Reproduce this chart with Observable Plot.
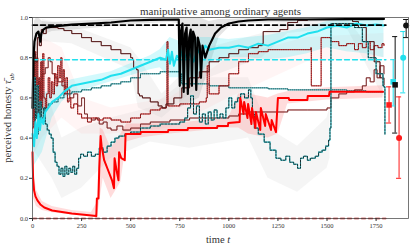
<!DOCTYPE html>
<html><head><meta charset="utf-8">
<script src="https://cdn.jsdelivr.net/npm/d3@7"></script>
<script src="https://cdn.jsdelivr.net/npm/@observablehq/plot@0.6"></script>
<style>body{margin:0;background:#fff;}</style>
</head><body><div id="chart"></div>
<script>
// ---------- data (time t, perceived honesty) ----------
const titleText = "manipulative among ordinary agents";
const xTicks = [0, 250, 500, 750, 1000, 1250, 1500, 1750];
const yTicks = [0, 0.2, 0.4, 0.6, 0.8, 1.0];

// reference levels
const refBlack = [[0,0.962],[1800,0.962]];
const refCyan  = [[0,0.79],[1800,0.79]];
const refRed   = [[0,0.0],[1800,0.0]];

// thick mean curves
const blackMean = [[0,0.55],[5,0.8],[10,0.88],[20,0.92],[30,0.93],[40,0.88],[45,0.92],[55,0.94],[70,0.95],[100,0.955],[150,0.96],[200,0.965],[300,0.97],[400,0.975],[500,0.985],[600,0.988],[745,0.99],[750,0.66],[756,0.93],[764,0.97],[770,0.63],[777,0.92],[785,0.95],[791,0.62],[798,0.9],[806,0.94],[812,0.66],[818,0.93],[828,0.9],[834,0.64],[842,0.9],[852,0.86],[858,0.7],[866,0.86],[880,0.8],[900,0.86],[930,0.92],[960,0.95],[1000,0.97],[1050,0.98],[1100,0.985],[1200,0.99],[1400,0.99],[1600,0.992],[1790,0.993]];
const blackBand = [[0,0.45,0.75],[10,0.6,0.98],[20,0.8,1],[30,0.85,1],[50,0.91,0.98],[100,0.93,0.975],[300,0.945,0.985],[500,0.965,0.995],[700,0.975,1],[745,0.97,1],[750,0.55,1],[850,0.6,1],[900,0.75,0.98],[950,0.9,0.99],[1000,0.95,0.99],[1100,0.97,0.995],[1500,0.98,1],[1790,0.98,1]];

const cyanMean = [[0,0.42],[8,0.36],[15,0.48],[22,0.4],[30,0.52],[38,0.44],[45,0.5],[55,0.47],[65,0.53],[80,0.55],[100,0.58],[130,0.6],[160,0.63],[200,0.66],[250,0.67],[300,0.68],[350,0.69],[400,0.71],[450,0.72],[500,0.74],[550,0.76],[600,0.78],[650,0.8],[680,0.79],[690,0.84],[700,0.77],[710,0.83],[720,0.76],[735,0.81],[750,0.79],[765,0.84],[780,0.8],[800,0.82],[820,0.78],[840,0.84],[860,0.81],[880,0.86],[900,0.84],[950,0.85],[1000,0.85],[1050,0.86],[1100,0.85],[1150,0.87],[1200,0.86],[1250,0.88],[1300,0.9],[1350,0.9],[1400,0.92],[1450,0.93],[1500,0.95],[1550,0.96],[1600,0.95],[1650,0.97],[1700,0.96],[1750,0.965],[1790,0.96]];
const cyanBand = [[0,0.25,0.65],[20,0.28,0.62],[50,0.33,0.62],[100,0.5,0.64],[150,0.58,0.67],[200,0.62,0.69],[300,0.65,0.71],[400,0.68,0.73],[500,0.71,0.77],[600,0.74,0.81],[650,0.75,0.84],[700,0.7,0.9],[750,0.7,0.88],[800,0.68,0.88],[850,0.7,0.9],[900,0.78,0.9],[1000,0.8,0.89],[1100,0.8,0.9],[1200,0.79,0.91],[1300,0.8,0.93],[1400,0.82,0.95],[1500,0.85,0.98],[1600,0.83,0.99],[1700,0.82,0.99],[1790,0.8,0.99]];

const redMean = [[0,0.33],[3,0.2],[8,0.14],[15,0.11],[25,0.09],[40,0.07],[60,0.055],[100,0.04],[150,0.032],[200,0.025],[250,0.02],[300,0.015],[325,0.012],[328,0.1],[336,0.1],[340,0.25],[347,0.41],[352,0.36],[365,0.29],[385,0.24],[405,0.19],[415,0.15],[418,0.3],[428,0.24],[438,0.19],[441,0.33],[452,0.3],[470,0.29],[474,0.42],[550,0.42],[552,0.43],[690,0.43],[692,0.44],[790,0.44],[792,0.45],[940,0.45],[942,0.46],[995,0.46],[997,0.475],[1055,0.48],[1058,0.6],[1075,0.52],[1078,0.58],[1095,0.5],[1098,0.57],[1115,0.47],[1118,0.55],[1135,0.45],[1138,0.53],[1160,0.44],[1163,0.55],[1185,0.46],[1188,0.52],[1215,0.44],[1218,0.49],[1240,0.43],[1250,0.6],[1305,0.6],[1307,0.59],[1400,0.59],[1402,0.61],[1510,0.61],[1513,0.63],[1785,0.63]];
const redBand = [[0,0.25,0.38],[5,0.1,0.25],[20,0.06,0.14],[50,0.04,0.085],[100,0.028,0.06],[200,0.018,0.04],[300,0.01,0.03],[330,0.0,0.08],[345,0.1,0.45],[360,0.2,0.44],[400,0.1,0.35],[450,0.18,0.42],[480,0.38,0.47],[550,0.4,0.47],[700,0.42,0.47],[1000,0.45,0.5],[1050,0.45,0.62],[1100,0.42,0.62],[1200,0.4,0.6],[1250,0.42,0.62],[1300,0.57,0.63],[1500,0.59,0.65],[1785,0.6,0.66]];

// thin individual curves
const brownLine = [[0,0.6],[8,0.82],[15,0.78],[25,0.9],[35,0.86],[45,0.94],[55,0.92],[70,0.95],[100,0.95],[130,0.945],[160,0.935],[200,0.92],[250,0.9],[300,0.88],[350,0.86],[400,0.84],[450,0.82],[500,0.8],[510,0.79],[515,0.75],[530,0.74],[538,0.62],[545,0.61],[560,0.6],[600,0.58],[640,0.56],[660,0.55],[680,0.57],[720,0.6],[760,0.65],[800,0.7],[850,0.73],[900,0.78],[950,0.8],[1000,0.82],[1050,0.84],[1100,0.85],[1150,0.86],[1170,0.87],[1175,0.93],[1230,0.93],[1260,0.94],[1290,0.94],[1300,0.975],[1350,0.985],[1400,0.99],[1500,0.99],[1600,0.99],[1630,0.98],[1660,0.95],[1700,0.88],[1740,0.78],[1770,0.7],[1790,0.665]];
const brownBand = [[50,0.88,0.99],[200,0.87,0.96],[500,0.74,0.85],[540,0.55,0.8],[660,0.5,0.62],[900,0.7,0.85],[1170,0.8,0.92],[1300,0.92,1],[1600,0.95,1],[1790,0.6,0.75]];

const tealDashed = [[0,0.55],[8,0.7],[15,0.5],[22,0.66],[30,0.46],[38,0.58],[45,0.5],[55,0.55],[65,0.47],[75,0.44],[85,0.42],[95,0.4],[105,0.33],[115,0.28],[125,0.26],[135,0.22],[145,0.25],[155,0.21],[165,0.26],[175,0.22],[185,0.25],[195,0.23],[205,0.26],[215,0.22],[225,0.25],[235,0.3],[245,0.32],[260,0.31],[280,0.33],[300,0.31],[320,0.32],[340,0.35],[360,0.33],[380,0.36],[400,0.38],[420,0.4],[440,0.41],[470,0.42],[500,0.43],[550,0.45],[600,0.46],[650,0.47],[700,0.47],[750,0.48],[775,0.5],[790,0.55],[805,0.61],[820,0.52],[835,0.56],[850,0.48],[865,0.52],[880,0.47],[895,0.53],[910,0.49],[925,0.54],[940,0.5],[955,0.52],[970,0.5],[985,0.55],[1000,0.6],[1015,0.55],[1030,0.58],[1045,0.6],[1060,0.62],[1080,0.6],[1100,0.64],[1112,0.6],[1120,0.52],[1130,0.45],[1150,0.42],[1180,0.38],[1210,0.34],[1240,0.3],[1265,0.29],[1290,0.31],[1310,0.28],[1330,0.27],[1350,0.25],[1365,0.3],[1380,0.31],[1400,0.29],[1415,0.3],[1440,0.31],[1457,0.33],[1475,0.34],[1493,0.36],[1508,0.39],[1515,0.45],[1520,0.97],[1560,0.97],[1600,0.97],[1640,0.95],[1680,0.88],[1710,0.8],[1750,0.72],[1785,0.66],[1790,0.655],[1795,0.42]];
const tealBand = [[0,0.35,0.75],[100,0.2,0.55],[150,0.1,0.4],[250,0.15,0.45],[400,0.3,0.5],[600,0.38,0.55],[800,0.35,0.7],[1100,0.4,0.7],[1200,0.2,0.45],[1350,0.13,0.36],[1500,0.25,0.5],[1515,0.3,0.55]];

const redDotted = [[0,0.45],[4,0.75],[8,0.5],[12,0.83],[17,0.58],[22,0.8],[27,0.45],[32,0.7],[37,0.5],[42,0.78],[47,0.55],[52,0.82],[58,0.6],[65,0.55],[72,0.62],[80,0.7],[88,0.6],[96,0.68],[104,0.62],[112,0.72],[120,0.66],[128,0.76],[136,0.7],[144,0.8],[150,0.68],[156,0.74],[162,0.62],[170,0.7],[178,0.58],[186,0.6],[195,0.55],[210,0.57],[230,0.52],[250,0.5],[280,0.48],[300,0.5],[330,0.49],[360,0.5],[400,0.49],[450,0.48],[500,0.5],[550,0.52],[600,0.54],[650,0.55],[682,0.56],[685,0.88],[690,0.56],[750,0.57],[850,0.58],[885,0.6],[890,0.76],[900,0.62],[950,0.66],[1000,0.72],[1050,0.78],[1100,0.82],[1150,0.83],[1200,0.84],[1300,0.84],[1418,0.85],[1420,0.66],[1468,0.66],[1470,0.9],[1500,0.9],[1520,0.88],[1560,0.86],[1600,0.87],[1640,0.84],[1660,0.87],[1680,0.85],[1700,0.88],[1720,0.84],[1740,0.86],[1760,0.85],[1780,0.87],[1790,0.86]];
const redDottedBand = [[0,0.3,0.85],[50,0.4,0.9],[150,0.5,0.85],[250,0.42,0.6],[400,0.42,0.55],[700,0.45,0.6],[1000,0.6,0.8],[1400,0.78,0.9],[1790,0.8,0.92]];

const darkRedLine = [[0,0.4],[10,0.6],[20,0.5],[30,0.68],[40,0.6],[50,0.72],[65,0.75],[80,0.8],[90,0.78],[100,0.72],[115,0.7],[130,0.68],[150,0.66],[170,0.64],[190,0.6],[210,0.62],[230,0.56],[250,0.6],[265,0.52],[280,0.5],[300,0.49],[320,0.5],[340,0.47],[360,0.48],[380,0.45],[400,0.44],[430,0.46],[460,0.44],[500,0.45],[550,0.47],[600,0.48],[700,0.49],[800,0.5],[900,0.5],[1000,0.51],[1050,0.52],[1100,0.53],[1200,0.53],[1300,0.54],[1400,0.54],[1500,0.55],[1520,0.6],[1560,0.62],[1600,0.63],[1640,0.64],[1680,0.66],[1700,0.7],[1720,0.68],[1740,0.74],[1755,0.7],[1770,0.76],[1790,0.72]];

const tealDotted = [[0,0.5],[15,0.42],[30,0.55],[45,0.48],[60,0.55],[80,0.57],[100,0.58],[130,0.6],[160,0.62],[200,0.63],[250,0.64],[300,0.65],[350,0.66],[400,0.67],[450,0.68],[500,0.7],[550,0.72],[600,0.72],[650,0.73],[700,0.73],[750,0.72],[760,0.67],[800,0.67],[900,0.66],[1000,0.65],[1100,0.65],[1200,0.645],[1300,0.64],[1400,0.64],[1500,0.64],[1600,0.635],[1700,0.63],[1790,0.63]];

// final summary markers (t position, value, low, high)
const markT     = [1816, 1837, 1847, 1867, 1888, 1903];
const markV     = [0.565, 0.68, 0.665, 0.40, 0.80, 0.96];
const markLo    = [0.475, 0.56, 0.425, 0.20, 0.625, 0.90];
const markHi    = [0.655, 0.79, 0.905, 0.605, 0.93, 0.99];
const markColor = ["red", "cyan", "black", "red", "cyan", "black"];
const markShape = ["square", "square", "square", "circle", "circle", "circle"];

// ---------- build ----------
const pts = a => a.map(([t, v]) => ({t, v}));
const band = a => a.map(([t, lo, hi]) => ({t, lo, hi}));
const palette = {red: "#ff1a1a", cyan: "#20e0ee", black: "#111"};
const marks = markT.map((t, i) => ({t, v: markV[i], lo: markLo[i], hi: markHi[i], c: markColor[i], s: markShape[i]}));

const line = (data, o) => Plot.line(pts(data), {x: "t", y: "v", curve: "step-after", ...o});
const area = (data, o) => Plot.areaY(band(data), {x: "t", y1: "lo", y2: "hi", ...o});

const chart = Plot.plot({
  width: 415, height: 249,
  marginLeft: 32, marginRight: 7, marginTop: 17, marginBottom: 31,
  x: {domain: [0, 1915]},
  y: {domain: [0, 1]},
  style: {fontFamily: "'Liberation Serif', serif", fontSize: "6.5px", background: "#fff", color: "#333"},
  marks: [
    area(tealBand, {fill: "#d8d8d8", fillOpacity: 0.25}),
    area(redDottedBand, {fill: "#ffb0b0", fillOpacity: 0.12}),
    area(brownBand, {fill: "#cccccc", fillOpacity: 0.22}),
    area(blackBand, {fill: "#aaaaaa", fillOpacity: 0.3}),
    area(cyanBand, {fill: "#20e0ee", fillOpacity: 0.2}),
    area(redBand, {fill: "#ff8080", fillOpacity: 0.28}),
    line(tealDotted, {stroke: "#20e0ee", strokeWidth: 0.9}),
    line(tealDotted, {stroke: "#222", strokeWidth: 0.8, strokeDasharray: "0.8,1.2"}),
    line(darkRedLine, {stroke: "#c02020", strokeWidth: 0.9}),
    line(darkRedLine, {stroke: "#333", strokeWidth: 0.5}),
    line(redDotted, {stroke: "#ff2020", strokeWidth: 1}),
    line(redDotted, {stroke: "#222", strokeWidth: 0.7, strokeDasharray: "0.8,1.4"}),
    line(brownLine, {stroke: "#8a1a1a", strokeWidth: 1}),
    line(brownLine, {stroke: "#222", strokeWidth: 0.5}),
    line(tealDashed, {stroke: "#20e0ee", strokeWidth: 1.1}),
    line(tealDashed, {stroke: "#1a1a1a", strokeWidth: 0.9, strokeDasharray: "2,1.3"}),
    line(refCyan, {stroke: "#20e0ee", strokeWidth: 1.4, strokeDasharray: "5,3", curve: "linear"}),
    line(refRed, {stroke: "#b00000", strokeWidth: 1.4, strokeDasharray: "4,3", curve: "linear"}),
    line(redMean, {stroke: "#ff0000", strokeWidth: 2, curve: "linear"}),
    line(cyanMean, {stroke: "#20e0ee", strokeWidth: 2, curve: "linear"}),
    line(refBlack, {stroke: "#000", strokeWidth: 1.6, strokeDasharray: "5,3", curve: "linear"}),
    line(blackMean, {stroke: "#000", strokeWidth: 2.2, curve: "linear"}),
    // summary markers with error bars
    Plot.ruleX(marks, {x: "t", y1: "lo", y2: "hi", stroke: d => palette[d.c], strokeWidth: 1}),
    Plot.ruleY(marks, {y: "lo", x1: d => d.t - 13, x2: d => d.t + 13, stroke: d => palette[d.c], strokeWidth: 1}),
    Plot.ruleY(marks, {y: "hi", x1: d => d.t - 13, x2: d => d.t + 13, stroke: d => palette[d.c], strokeWidth: 1}),
    Plot.dot(marks, {x: "t", y: "v", symbol: "s", r: d => d.s === "square" ? 2.8 : 2.6, fill: d => palette[d.c], stroke: "none"}),
    Plot.frame({stroke: "#555", strokeWidth: 0.8}),
    Plot.axisX({ticks: xTicks, tickSize: 3, tickPadding: 2, tickFormat: d => String(d), label: null}),
    Plot.axisY({ticks: yTicks, tickSize: 3, tickPadding: 1.5, tickFormat: d3.format(".1f"), label: null}),
    Plot.text([titleText], {frameAnchor: "top", lineAnchor: "bottom", dy: -2.5, fontSize: 11, fill: "#333"})
  ]
});
document.getElementById("chart").appendChild(chart);

// axis titles with math-style parts
const svg = d3.select(chart);
const xl = svg.append("text").attr("x", 218).attr("y", 243).attr("text-anchor", "middle")
  .attr("font-family", "'Liberation Serif', serif").attr("font-size", 10.5).attr("fill", "#333");
xl.append("tspan").text("time ");
xl.append("tspan").attr("font-style", "italic").text("t");

const yl = svg.append("text").attr("transform", "translate(11,118) rotate(-90)").attr("text-anchor", "middle")
  .attr("font-family", "'Liberation Serif', serif").attr("font-size", 10.5).attr("fill", "#333");
yl.append("tspan").text("perceived honesty ");
yl.append("tspan").attr("font-style", "italic").text("\u03C4\u0304");
yl.append("tspan").attr("font-style", "italic").attr("font-size", 7).attr("dy", 2.5).text("ab");
</script>
</body></html>
